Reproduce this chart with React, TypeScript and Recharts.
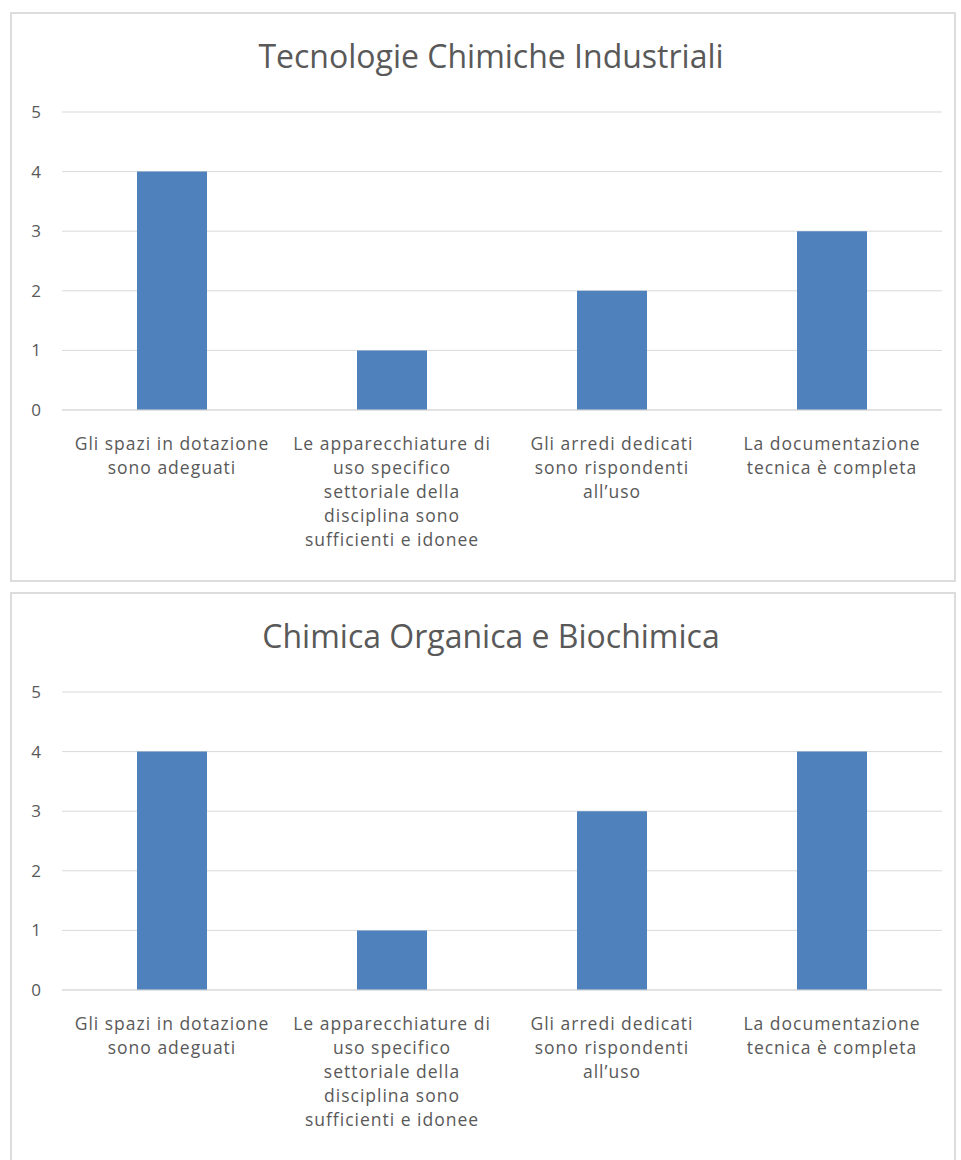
import React from 'react';
import { BarChart, Bar, XAxis, YAxis, CartesianGrid } from 'recharts';

const categories = [
  'Gli spazi in dotazione sono adeguati',
  'Le apparecchiature di uso specifico settoriale della disciplina sono sufficienti e idonee',
  'Gli arredi dedicati sono rispondenti all’uso',
  'La documentazione tecnica è completa',
];
const tecnologieValues = [4, 1, 2, 3];
const organicaValues = [4, 1, 3, 4];
const yTicks = [0, 1, 2, 3, 4, 5];

const FONT = '"Open Sans", sans-serif';
const TEXT = '#595959';
const GRID = '#d9d9d9';
const BAR = '#4f81bd';

// greedy wrap, roughly what Excel does at this width
function wrap(label: string, max = 22) {
  const lines: string[] = [];
  let cur = '';
  for (const w of label.split(' ')) {
    const next = cur ? cur + ' ' + w : w;
    if (next.length > max && cur) {
      lines.push(cur);
      cur = w;
    } else cur = next;
  }
  if (cur) lines.push(cur);
  return lines;
}

const CatTick = (props: any) => {
  const { x, y, payload } = props;
  const lines = wrap(payload.value);
  return (
    <text
      x={x}
      y={y + 40}
      textAnchor="middle"
      fill={TEXT}
      fontSize={17.5}
      letterSpacing={1}
      fontFamily={FONT}
    >
      {lines.map((l, i) => (
        <tspan key={i} x={x} dy={i === 0 ? 0 : 24}>
          {l}
        </tspan>
      ))}
    </text>
  );
};

function Panel({ title, values, top }: { title: string; values: number[]; top: number }) {
  const data = categories.map((c, i) => ({ name: c, value: values[i] }));
  return (
    <div
      style={{
        position: 'absolute',
        left: 10,
        top,
        width: 942,
        height: 566,
        border: '2px solid #dcdcdc',
        background: '#fff',
      }}
    >
      <div
        style={{
          position: 'absolute',
          left: 0,
          width: 958,
          top: 26,
          lineHeight: '32px',
          textAlign: 'center',
          fontFamily: FONT,
          fontSize: 32,
          color: TEXT,
        }}
      >
        {title}
      </div>
      <BarChart
        width={942}
        height={566}
        data={data}
        margin={{ top: 98, right: 12, bottom: 0, left: 0 }}
        barSize={70}
      >
        <CartesianGrid vertical={false} stroke={GRID} />
        <XAxis
          dataKey="name"
          interval={0}
          tickLine={false}
          tickSize={0}
          tickMargin={0}
          axisLine={{ stroke: GRID }}
          height={170}
          tick={<CatTick />}
        />
        <YAxis
          domain={[0, 5]}
          ticks={yTicks}
          width={50}
          axisLine={false}
          tickLine={false}
          tickSize={0}
          tickMargin={21}
          tick={{ fill: TEXT, fontSize: 17, fontFamily: FONT }}
        />
        <Bar dataKey="value" fill={BAR} isAnimationActive={false} />
      </BarChart>
    </div>
  );
}

export default function App() {
  return (
    <div style={{ position: 'absolute', left: 0, top: 0, width: 961, height: 1160, background: '#fff', overflow: 'hidden' }}>
      <Panel title="Tecnologie Chimiche Industriali" values={tecnologieValues} top={12} />
      <Panel title="Chimica Organica e Biochimica" values={organicaValues} top={592} />
    </div>
  );
}
